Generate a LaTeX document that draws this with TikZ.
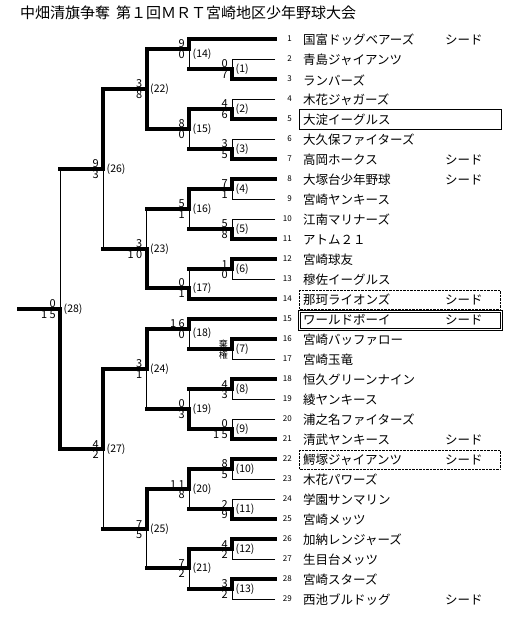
\documentclass[tikz,border=0pt]{standalone}
\usepackage{fontspec}
\setmainfont{Noto Sans CJK JP}
\usetikzlibrary{positioning}

\begin{document}
\begin{tikzpicture}[x=1pt,y=-1pt,
  win/.style={line width=4pt,line cap=rect},
  lose/.style={line width=0.9pt},
  title/.style={anchor=west,inner sep=0pt,font=\fontsize{15}{16}\selectfont},
  team/.style={anchor=west,inner sep=0pt,font=\fontsize{12.5}{13}\selectfont},
  num/.style={anchor=east,inner sep=0pt,font=\fontsize{8}{8}\selectfont},
  game/.style={anchor=west,inner sep=0pt,xshift=3.5pt,font=\fontsize{10.5}{11}\selectfont},
  hi/.style={anchor=south east,inner sep=0pt,xshift=-4pt,yshift=0.8pt,font=\fontsize{11}{11}\selectfont},
  lo/.style={anchor=north east,inner sep=0pt,xshift=-4pt,yshift=-1.2pt,font=\fontsize{11}{11}\selectfont},
  kanji/.style={font=\fontsize{9}{9}\selectfont}]
\useasboundingbox (0,0) rectangle (517,620);

\node[title] (head) at (20,13) {中畑清旗争奪\hspace{6pt}第１回ＭＲＴ宮崎地区少年野球大会};

\node[num] (n1) at (292,39) {1};   \node[team] (tm1) at (303,40) {国富ドッグベアーズ};  \node[team] (sd1) at (445,40) {シード};
\node[num] (n2) at (292,59) {2};   \node[team] (tm2) at (303,60) {青島ジャイアンツ};
\node[num] (n3) at (292,79) {3};   \node[team] (tm3) at (303,80) {ランバーズ};
\node[num] (n4) at (292,99) {4};   \node[team] (tm4) at (303,100) {木花ジャガーズ};
\node[num] (n5) at (292,119) {5};  \node[team] (tm5) at (303,120) {大淀イーグルス};
\node[num] (n6) at (292,139) {6};  \node[team] (tm6) at (303,140) {大久保ファイターズ};
\node[num] (n7) at (292,159) {7};  \node[team] (tm7) at (303,160) {高岡ホークス};      \node[team] (sd7) at (445,160) {シード};
\node[num] (n8) at (292,179) {8};  \node[team] (tm8) at (303,180) {大塚台少年野球};    \node[team] (sd8) at (445,180) {シード};
\node[num] (n9) at (292,199) {9};  \node[team] (tm9) at (303,200) {宮崎ヤンキース};
\node[num] (n10) at (292,219) {10}; \node[team] (tm10) at (303,220) {江南マリナーズ};
\node[num] (n11) at (292,239) {11}; \node[team] (tm11) at (303,240) {アトム２１};
\node[num] (n12) at (292,259) {12}; \node[team] (tm12) at (303,260) {宮崎球友};
\node[num] (n13) at (292,279) {13}; \node[team] (tm13) at (303,280) {穆佐イーグルス};
\node[num] (n14) at (292,299) {14}; \node[team] (tm14) at (303,300) {那珂ライオンズ};   \node[team] (sd14) at (445,300) {シード};
\node[num] (n15) at (292,319) {15}; \node[team] (tm15) at (303,320) {ワールドボーイ};   \node[team] (sd15) at (445,320) {シード};
\node[num] (n16) at (292,339) {16}; \node[team] (tm16) at (303,340) {宮崎バッファロー};
\node[num] (n17) at (292,359) {17}; \node[team] (tm17) at (303,360) {宮崎玉竜};
\node[num] (n18) at (292,379) {18}; \node[team] (tm18) at (303,380) {恒久グリーンナイン};
\node[num] (n19) at (292,399) {19}; \node[team] (tm19) at (303,400) {綾ヤンキース};
\node[num] (n20) at (292,419) {20}; \node[team] (tm20) at (303,420) {浦之名ファイターズ};
\node[num] (n21) at (292,439) {21}; \node[team] (tm21) at (303,440) {清武ヤンキース};   \node[team] (sd21) at (445,440) {シード};
\node[num] (n22) at (292,459) {22}; \node[team] (tm22) at (303,460) {鰐塚ジャイアンツ}; \node[team] (sd22) at (445,460) {シード};
\node[num] (n23) at (292,479) {23}; \node[team] (tm23) at (303,480) {木花パワーズ};
\node[num] (n24) at (292,499) {24}; \node[team] (tm24) at (303,500) {学園サンマリン};
\node[num] (n25) at (292,519) {25}; \node[team] (tm25) at (303,520) {宮崎メッツ};
\node[num] (n26) at (292,539) {26}; \node[team] (tm26) at (303,540) {加納レンジャーズ};
\node[num] (n27) at (292,559) {27}; \node[team] (tm27) at (303,560) {生目台メッツ};
\node[num] (n28) at (292,579) {28}; \node[team] (tm28) at (303,580) {宮崎スターズ};
\node[num] (n29) at (292,599) {29}; \node[team] (tm29) at (303,600) {西池ブルドッグ};    \node[team] (sd29) at (445,600) {シード};

\draw (299,109) rectangle (501,129);
\draw (298.5,310) rectangle (502,330);
\draw (300.5,312) rectangle (500,328);
\draw[densely dotted] (299,290) rectangle (500,309);
\draw[densely dotted] (299,450) rectangle (500,469);

\coordinate (t1) at (275,39);   \coordinate (t2) at (275,59);   \coordinate (t3) at (275,79);
\coordinate (t4) at (275,99);   \coordinate (t5) at (275,119);  \coordinate (t6) at (275,139);
\coordinate (t7) at (275,159);  \coordinate (t8) at (275,179);  \coordinate (t9) at (275,199);
\coordinate (t10) at (275,219); \coordinate (t11) at (275,239); \coordinate (t12) at (275,259);
\coordinate (t13) at (275,279); \coordinate (t14) at (275,299); \coordinate (t15) at (275,319);
\coordinate (t16) at (275,339); \coordinate (t17) at (275,359); \coordinate (t18) at (275,379);
\coordinate (t19) at (275,399); \coordinate (t20) at (275,419); \coordinate (t21) at (275,439);
\coordinate (t22) at (275,459); \coordinate (t23) at (275,479); \coordinate (t24) at (275,499);
\coordinate (t25) at (275,519); \coordinate (t26) at (275,539); \coordinate (t27) at (275,559);
\coordinate (t28) at (275,579); \coordinate (t29) at (275,599);

\coordinate (m1) at (232,69);   \coordinate (m2) at (232,109);  \coordinate (m3) at (232,149);
\coordinate (m4) at (232,189);  \coordinate (m5) at (232,229);  \coordinate (m6) at (232,269);
\coordinate (m7) at (232,349);  \coordinate (m8) at (232,389);  \coordinate (m9) at (232,429);
\coordinate (m10) at (232,469); \coordinate (m11) at (232,509); \coordinate (m12) at (232,549);
\coordinate (m13) at (232,589);
\coordinate (m14) at (189,49);  \coordinate (m15) at (189,129); \coordinate (m16) at (189,209);
\coordinate (m17) at (189,288); \coordinate (m18) at (189,329); \coordinate (m19) at (189,409);
\coordinate (m20) at (189,489); \coordinate (m21) at (189,568);
\coordinate (m22) at (146.5,89);  \coordinate (m23) at (146.5,249);
\coordinate (m24) at (146.5,369); \coordinate (m25) at (146.5,529);
\coordinate (m26) at (103,169); \coordinate (m27) at (103,449);
\coordinate (m28) at (60,309);  \coordinate (start) at (19,309);

\draw[lose] (t2) -| (m1);   \draw[win] (t3) -| (m1);
\draw[lose] (t4) -| (m2);   \draw[win] (t5) -| (m2);
\draw[lose] (t6) -| (m3);   \draw[win] (t7) -| (m3);
\draw[win] (t8) -| (m4);    \draw[lose] (t9) -| (m4);
\draw[lose] (t10) -| (m5);  \draw[win] (t11) -| (m5);
\draw[win] (t12) -| (m6);   \draw[lose] (t13) -| (m6);
\draw[win] (t16) -| (m7);   \draw[lose] (t17) -| (m7);
\draw[win] (t18) -| (m8);   \draw[lose] (t19) -| (m8);
\draw[lose] (t20) -| (m9);  \draw[win] (t21) -| (m9);
\draw[win] (t22) -| (m10);  \draw[lose] (t23) -| (m10);
\draw[lose] (t24) -| (m11); \draw[win] (t25) -| (m11);
\draw[win] (t26) -| (m12);  \draw[lose] (t27) -| (m12);
\draw[win] (t28) -| (m13);  \draw[lose] (t29) -| (m13);

\draw[win] (t1) -| (m14);
\draw[win] (m1) -- (m1 -| m14);   \draw[lose] (m1 -| m14) -- (m14);
\draw[win] (m2) -| (m15);
\draw[win] (m3) -- (m3 -| m15);   \draw[lose] (m3 -| m15) -- (m15);
\draw[win] (m4) -| (m16);
\draw[win] (m5) -- (m5 -| m16);   \draw[lose] (m5 -| m16) -- (m16);
\draw[win] (m6) -- (m6 -| m17);   \draw[lose] (m6 -| m17) -- (m17);
\draw[win] (t14) -| (m17);
\draw[win] (t15) -| (m18);
\draw[win] (m7) -- (m7 -| m18);   \draw[lose] (m7 -| m18) -- (m18);
\draw[win] (m8) -- (m8 -| m19);   \draw[lose] (m8 -| m19) -- (m19);
\draw[win] (m9) -| (m19);
\draw[win] (m10) -| (m20);
\draw[win] (m11) -- (m11 -| m20); \draw[lose] (m11 -| m20) -- (m20);
\draw[win] (m12) -| (m21);
\draw[win] (m13) -- (m13 -| m21); \draw[lose] (m13 -| m21) -- (m21);

\draw[win] (m14) -| (m22);
\draw[win] (m15) -| (m22);
\draw[win] (m16) -- (m16 -| m23); \draw[lose] (m16 -| m23) -- (m23);
\draw[win] (m17) -| (m23);
\draw[win] (m18) -| (m24);
\draw[win] (m19) -- (m19 -| m24); \draw[lose] (m19 -| m24) -- (m24);
\draw[win] (m20) -| (m25);
\draw[win] (m21) -- (m21 -| m25); \draw[lose] (m21 -| m25) -- (m25);

\draw[win] (m22) -| (m26);
\draw[win] (m23) -- (m23 -| m26); \draw[lose] (m23 -| m26) -- (m26);
\draw[win] (m24) -| (m27);
\draw[win] (m25) -- (m25 -| m27); \draw[lose] (m25 -| m27) -- (m27);

\draw[win] (m26) -- (m26 -| m28); \draw[lose] (m26 -| m28) -- (m28);
\draw[win] (m27) -| (m28);
\draw[win] (m28) -- (start);

\node[game] (g1) at (m1) {(1)};     \node[hi] (a1) at (m1) {0};   \node[lo] (b1) at (m1) {7};
\node[game] (g2) at (m2) {(2)};     \node[hi] (a2) at (m2) {4};   \node[lo] (b2) at (m2) {6};
\node[game] (g3) at (m3) {(3)};     \node[hi] (a3) at (m3) {3};   \node[lo] (b3) at (m3) {5};
\node[game] (g4) at (m4) {(4)};     \node[hi] (a4) at (m4) {7};   \node[lo] (b4) at (m4) {1};
\node[game] (g5) at (m5) {(5)};     \node[hi] (a5) at (m5) {5};   \node[lo] (b5) at (m5) {8};
\node[game] (g6) at (m6) {(6)};     \node[hi] (a6) at (m6) {1};   \node[lo] (b6) at (m6) {0};
\node[game] (g7) at (m7) {(7)};     \node[hi,kanji] (a7) at (m7) {棄}; \node[lo,kanji] (b7) at (m7) {権};
\node[game] (g8) at (m8) {(8)};     \node[hi] (a8) at (m8) {4};   \node[lo] (b8) at (m8) {3};
\node[game] (g9) at (m9) {(9)};     \node[hi] (a9) at (m9) {0};   \node[lo] (b9) at (m9) {1 5};
\node[game] (g10) at (m10) {(10)};  \node[hi] (a10) at (m10) {8}; \node[lo] (b10) at (m10) {5};
\node[game] (g11) at (m11) {(11)};  \node[hi] (a11) at (m11) {2}; \node[lo] (b11) at (m11) {9};
\node[game] (g12) at (m12) {(12)};  \node[hi] (a12) at (m12) {4}; \node[lo] (b12) at (m12) {2};
\node[game] (g13) at (m13) {(13)};  \node[hi] (a13) at (m13) {3}; \node[lo] (b13) at (m13) {2};
\node[game,yshift=-5pt] (g14) at (m14) {(14)}; \node[hi] (a14) at (m14) {9}; \node[lo] (b14) at (m14) {0};
\node[game] (g15) at (m15) {(15)};  \node[hi] (a15) at (m15) {8}; \node[lo] (b15) at (m15) {0};
\node[game] (g16) at (m16) {(16)};  \node[hi] (a16) at (m16) {5}; \node[lo] (b16) at (m16) {1};
\node[game] (g17) at (m17) {(17)};  \node[hi] (a17) at (m17) {0}; \node[lo] (b17) at (m17) {1};
\node[game,yshift=-4pt] (g18) at (m18) {(18)}; \node[hi] (a18) at (m18) {1 6}; \node[lo] (b18) at (m18) {0};
\node[game] (g19) at (m19) {(19)};  \node[hi] (a19) at (m19) {0}; \node[lo] (b19) at (m19) {3};
\node[game] (g20) at (m20) {(20)};  \node[hi] (a20) at (m20) {1 1}; \node[lo] (b20) at (m20) {8};
\node[game] (g21) at (m21) {(21)};  \node[hi] (a21) at (m21) {7}; \node[lo] (b21) at (m21) {2};
\node[game] (g22) at (m22) {(22)};  \node[hi] (a22) at (m22) {3}; \node[lo] (b22) at (m22) {8};
\node[game] (g23) at (m23) {(23)};  \node[hi] (a23) at (m23) {3}; \node[lo] (b23) at (m23) {1 0};
\node[game] (g24) at (m24) {(24)};  \node[hi] (a24) at (m24) {3}; \node[lo] (b24) at (m24) {1};
\node[game] (g25) at (m25) {(25)};  \node[hi] (a25) at (m25) {7}; \node[lo] (b25) at (m25) {5};
\node[game] (g26) at (m26) {(26)};  \node[hi] (a26) at (m26) {9}; \node[lo] (b26) at (m26) {3};
\node[game] (g27) at (m27) {(27)};  \node[hi] (a27) at (m27) {4}; \node[lo] (b27) at (m27) {2};
\node[game] (g28) at (m28) {(28)};  \node[hi] (a28) at (m28) {0}; \node[lo] (b28) at (m28) {1 5};
\end{tikzpicture}
\end{document}
